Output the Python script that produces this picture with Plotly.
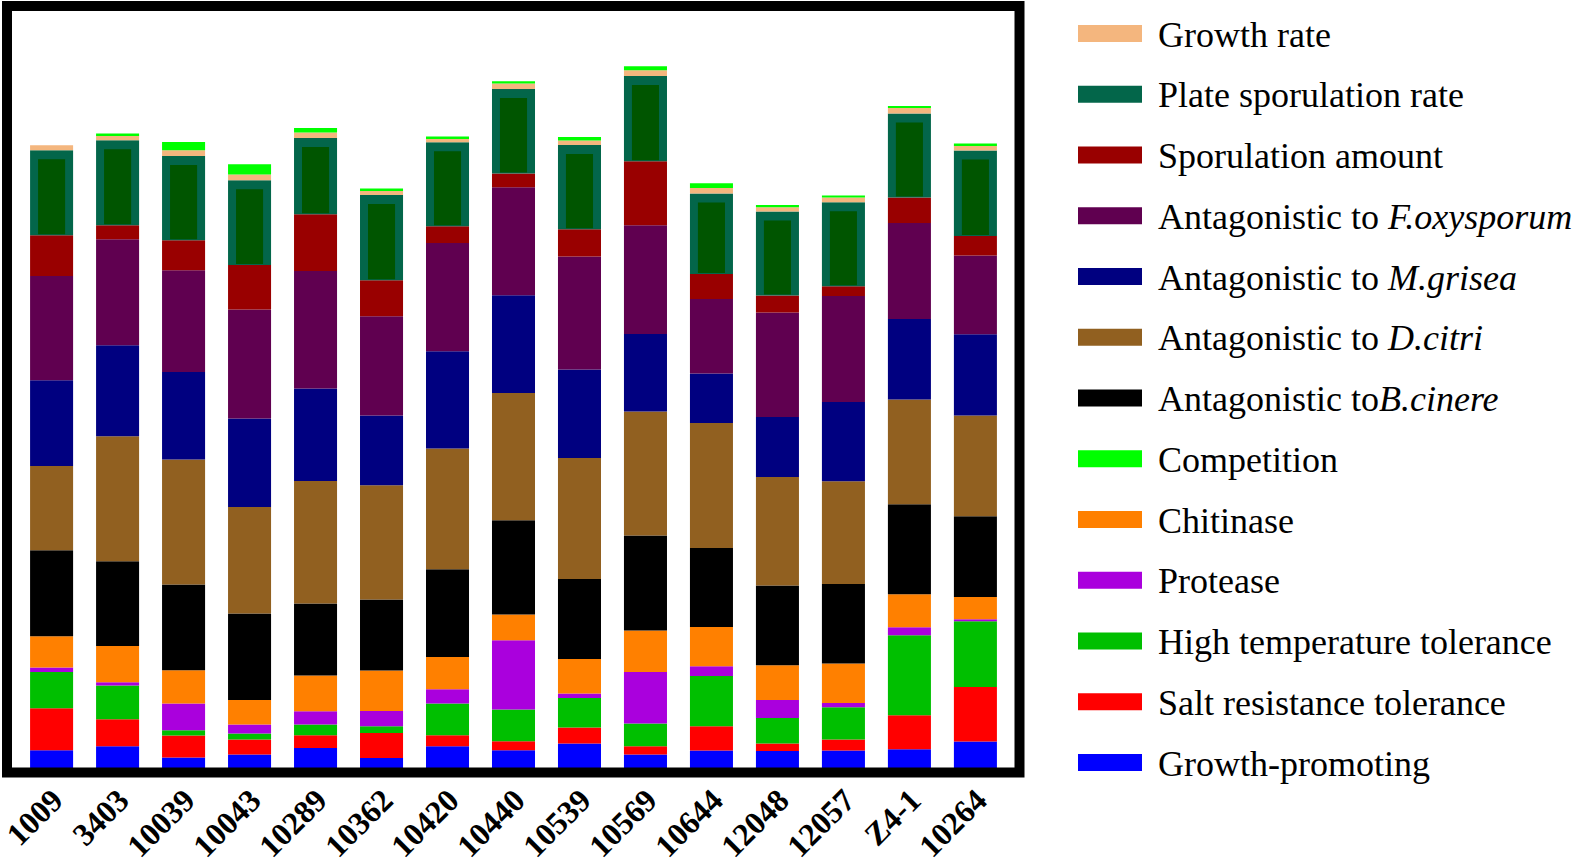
import numpy as np
import plotly.graph_objects as go

strains = ["1009", "3403", "10039", "10043", "10289", "10362", "10420", "10440",
           "10539", "10569", "10644", "12048", "12057", "Z4-1", "10264"]

growth_promoting = [1.77, 2.17, 1.04, 1.34, 2.00, 1.00, 2.17, 1.77, 2.44, 1.34, 1.74, 1.70, 1.74, 1.87, 2.64]
salt_resistance = [4.20, 2.70, 2.20, 1.50, 1.27, 2.50, 1.10, 0.90, 1.60, 0.83, 2.43, 0.74, 1.10, 3.40, 5.46]
high_temperature = [3.63, 3.37, 0.53, 0.60, 1.07, 0.67, 3.17, 3.17, 2.96, 2.27, 5.03, 2.56, 3.23, 8.00, 6.57]
protease = [0.44, 0.33, 2.67, 0.90, 1.33, 1.53, 1.43, 6.93, 0.44, 5.16, 0.97, 1.80, 0.43, 0.80, 0.20]
chitinase = [3.13, 3.63, 3.33, 2.46, 3.57, 4.04, 3.23, 2.57, 3.46, 4.14, 3.93, 3.47, 3.94, 3.30, 2.23]
b_cinere = [8.60, 8.47, 8.57, 8.64, 7.20, 7.10, 8.77, 9.43, 8.00, 9.50, 7.90, 7.97, 7.96, 9.00, 8.07]
d_citri = [8.43, 12.50, 12.50, 10.66, 12.26, 11.43, 12.07, 12.73, 12.10, 12.40, 12.50, 10.86, 10.27, 10.47, 10.07]
m_grisea = [8.57, 9.10, 8.76, 8.84, 9.24, 6.97, 9.73, 9.77, 8.84, 7.76, 4.94, 6.00, 7.93, 8.06, 8.13]
f_oxysporum = [10.43, 10.60, 10.17, 10.90, 11.76, 9.93, 10.83, 10.80, 11.30, 10.87, 7.46, 10.44, 10.60, 9.60, 7.87]
sporulation_amount = [4.07, 1.40, 3.00, 4.46, 5.67, 3.60, 1.67, 1.37, 2.73, 6.40, 2.50, 1.70, 0.97, 2.54, 1.96]
plate_sporulation = [8.50, 8.50, 8.43, 8.47, 7.63, 8.53, 8.40, 8.46, 8.43, 8.53, 8.04, 8.40, 8.40, 8.40, 8.54]
growth_rate = [0.50, 0.50, 0.57, 0.57, 0.54, 0.40, 0.40, 0.54, 0.44, 0.57, 0.56, 0.43, 0.47, 0.56, 0.53]
competition = [0.00, 0.17, 0.83, 1.03, 0.46, 0.24, 0.17, 0.23, 0.36, 0.40, 0.47, 0.23, 0.20, 0.14, 0.17]

# stacking order (bottom -> top)
stack_names = ["Growth-promoting", "Salt resistance tolerance", "High temperature tolerance",
               "Protease", "Chitinase", "Antagonistic to<i>B.cinere</i>",
               "Antagonistic to <i>D.citri</i>", "Antagonistic to <i>M.grisea</i>",
               "Antagonistic to <i>F.oxysporum</i>", "Sporulation amount",
               "Plate sporulation rate", "Growth rate", "Competition"]
stack_values = [growth_promoting, salt_resistance, high_temperature, protease, chitinase,
                b_cinere, d_citri, m_grisea, f_oxysporum, sporulation_amount,
                plate_sporulation, growth_rate, competition]
stack_colors = ["#0000FF", "#FF0000", "#00BF00", "#AA00DD", "#FF8000", "#000000",
                "#916020", "#000080", "#600050", "#990000", "#03664A", "#F4B67E", "#00FF00"]

# legend order (top -> bottom)
legend_order = ["Growth rate", "Plate sporulation rate", "Sporulation amount",
                "Antagonistic to <i>F.oxysporum</i>", "Antagonistic to <i>M.grisea</i>",
                "Antagonistic to <i>D.citri</i>", "Antagonistic to<i>B.cinere</i>",
                "Competition", "Chitinase", "Protease", "High temperature tolerance",
                "Salt resistance tolerance", "Growth-promoting"]

BAR_W = 0.652
fig = go.Figure()
base = np.zeros(len(strains))
for name, vals, col in zip(stack_names, stack_values, stack_colors):
    v = np.array(vals, dtype=float)
    fig.add_trace(go.Bar(x=strains, y=v, base=base.copy(), name=name, width=BAR_W,
                         marker=dict(color=col, line=dict(width=0)), showlegend=False))
    if name == "Plate sporulation rate":
        fig.add_trace(go.Bar(x=strains, y=v - 1.0, base=base + 0.1, width=0.41,
                             marker=dict(color="#005500", line=dict(width=0)),
                             showlegend=False, hoverinfo="skip"))
    base = base + v

# pixel geometry of plot area
L, R, T, B = 12, 1015, 11, 768
PW, PH = R - L, B - T

def px_x(px):
    return (px - L) / PW

def px_y(py):
    return (B - py) / PH

shapes = [dict(type="rect", xref="paper", yref="paper",
               x0=px_x(7), x1=px_x(1019.5), y0=px_y(772.5), y1=px_y(6),
               line=dict(color="black", width=10), fillcolor="rgba(0,0,0,0)", layer="above")]
annotations = []
color_of = dict(zip(stack_names, stack_colors))
for i, name in enumerate(legend_order):
    yc = 33.5 + 60.75 * i
    shapes.append(dict(type="rect", xref="paper", yref="paper",
                       x0=px_x(1078), x1=px_x(1142), y0=px_y(yc + 8.5), y1=px_y(yc - 8.5),
                       fillcolor=color_of[name], line=dict(width=0)))
    annotations.append(dict(xref="paper", yref="paper", x=px_x(1156), y=px_y(yc + 1),
                            xanchor="left", yanchor="middle", showarrow=False, text=name,
                            font=dict(family="Liberation Serif", size=36, color="black")))

fig.update_layout(
    barmode="overlay",
    width=1594, height=863, autosize=False,
    margin=dict(l=L, r=1594 - R, t=T, b=863 - B, pad=0, autoexpand=False),
    plot_bgcolor="white", paper_bgcolor="white",
    shapes=shapes, annotations=annotations,
    xaxis=dict(type="category", categoryorder="array", categoryarray=strains,
               range=[-0.6, 14.6], showgrid=False, zeroline=False, showline=False,
               automargin=False,
               ticks="", tickangle=-45, ticklabelstandoff=6, ticklabelshift=2,
               tickfont=dict(family="Liberation Serif", size=32, color="black", weight="bold")),
    yaxis=dict(range=[0, PH / 10], visible=False, showgrid=False, zeroline=False,
               automargin=False),
    showlegend=False,
)

fig.write_html("out.html", config={"displayModeBar": False},
               post_script="document.body.style.margin='0';document.body.style.overflow='hidden';")
